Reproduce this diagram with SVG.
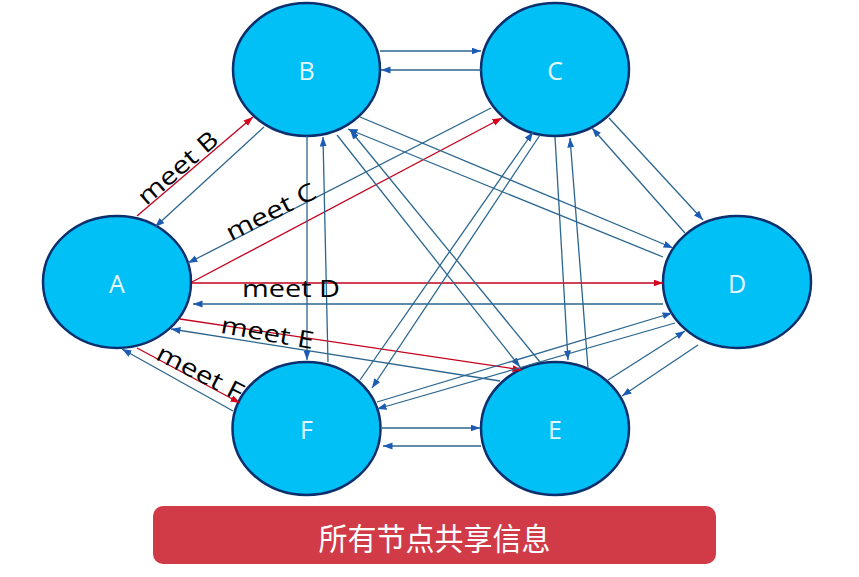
<svg xmlns="http://www.w3.org/2000/svg" width="859" height="577" viewBox="0 0 859 577">
<style>
.node ellipse{fill:#00c0f6;stroke:#0c2f6e;stroke-width:2.5}
.node text{font-family:"Open Sans","Noto Sans",sans-serif;font-size:25px;fill:#e8f8ff;text-anchor:middle}
.b{stroke:#2b6690;stroke-width:1.3;fill:none;marker-end:url(#ab)}
.r{stroke:#c3001c;stroke-width:1.3;fill:none;marker-end:url(#ar)}
.lbl{font-family:"Open Sans","Noto Sans",sans-serif;font-size:24px;fill:#000;text-anchor:middle}
</style>
<defs>
<marker id="ab" markerUnits="userSpaceOnUse" markerWidth="10" markerHeight="8" refX="9.5" refY="3.5" orient="auto">
<path d="M0,0 L9.5,3.5 L0,7 z" fill="#1c5bb4"/>
</marker>
<marker id="ar" markerUnits="userSpaceOnUse" markerWidth="10" markerHeight="8" refX="9.5" refY="3.5" orient="auto">
<path d="M0,0 L9.5,3.5 L0,7 z" fill="#d8001a"/>
</marker>
</defs>
<rect width="859" height="577" fill="#ffffff"/>

<g id="node-A" class="node"><ellipse cx="117" cy="282" rx="74" ry="66"/><text x="117" y="293">A</text></g>
<g id="node-B" class="node"><ellipse cx="306.5" cy="69.5" rx="73.5" ry="66.5"/><text x="306.5" y="80">B</text></g>
<g id="node-C" class="node"><ellipse cx="555" cy="69.5" rx="74" ry="66.5"/><text x="555" y="80">C</text></g>
<g id="node-D" class="node"><ellipse cx="737" cy="282" rx="74" ry="66"/><text x="737" y="293">D</text></g>
<g id="node-E" class="node"><ellipse cx="555" cy="428.5" rx="74" ry="66.5"/><text x="555" y="439">E</text></g>
<g id="node-F" class="node"><ellipse cx="306.5" cy="428.5" rx="74" ry="66.5"/><text x="306.5" y="439">F</text></g>

<g id="connectors">
<line class="r" x1="137" y1="216" x2="253" y2="117"/>
<line class="r" x1="192" y1="282" x2="502" y2="118"/>
<line class="r" x1="192" y1="283" x2="663" y2="283"/>
<line class="r" x1="180" y1="319" x2="522" y2="370"/>
<line class="r" x1="137" y1="348" x2="240" y2="403"/>
<line class="b" x1="264" y1="127" x2="155" y2="227"/>
<line class="b" x1="491" y1="108" x2="188" y2="263"/>
<line class="b" x1="663" y1="304" x2="193" y2="304"/>
<line class="b" x1="500" y1="381" x2="171" y2="329"/>
<line class="b" x1="233" y1="411" x2="122" y2="349"/>
<line class="b" x1="380" y1="51" x2="481" y2="51"/>
<line class="b" x1="481" y1="70" x2="381" y2="70"/>
<line class="b" x1="360" y1="117" x2="673" y2="248"/>
<line class="b" x1="663" y1="257" x2="348" y2="129"/>
<line class="b" x1="337" y1="135" x2="520" y2="367"/>
<line class="b" x1="540" y1="362" x2="350" y2="130"/>
<line class="b" x1="307" y1="136" x2="307" y2="360"/>
<line class="b" x1="328" y1="362" x2="323" y2="137"/>
<line class="b" x1="609" y1="118" x2="703" y2="220"/>
<line class="b" x1="685" y1="233" x2="592" y2="128"/>
<line class="b" x1="555" y1="137" x2="568" y2="360"/>
<line class="b" x1="588" y1="368" x2="570" y2="138"/>
<line class="b" x1="540" y1="135" x2="372" y2="388"/>
<line class="b" x1="360" y1="380" x2="533" y2="132"/>
<line class="b" x1="698" y1="345" x2="622" y2="396"/>
<line class="b" x1="608" y1="380" x2="685" y2="331"/>
<line class="b" x1="675" y1="323" x2="377" y2="409"/>
<line class="b" x1="377" y1="402" x2="672" y2="313"/>
<line class="b" x1="481" y1="446" x2="383" y2="446"/>
<line class="b" x1="382" y1="428" x2="480" y2="428"/>
<text class="lbl" transform="translate(178,168) rotate(-41)" y="8" textLength="98" lengthAdjust="spacingAndGlyphs">meet B</text>
<text class="lbl" transform="translate(271,212) rotate(-27)" y="8" textLength="98" lengthAdjust="spacingAndGlyphs">meet C</text>
<text class="lbl" x="291" y="297" textLength="98" lengthAdjust="spacingAndGlyphs">meet D</text>
<text class="lbl" transform="translate(266,341) rotate(10)" y="0" textLength="94" lengthAdjust="spacingAndGlyphs">meet E</text>
<text class="lbl" transform="translate(200,373) rotate(27)" y="8" textLength="94" lengthAdjust="spacingAndGlyphs">meet F</text>
</g>

<g id="banner">
<rect x="153" y="506" width="563" height="58" rx="10" fill="#d13a47"/>
<text x="434.5" y="549.5" font-family="'Noto Sans CJK SC',sans-serif" font-size="31" fill="#ffffff" text-anchor="middle" textLength="232" lengthAdjust="spacingAndGlyphs">所有节点共享信息</text>
</g>
</svg>
